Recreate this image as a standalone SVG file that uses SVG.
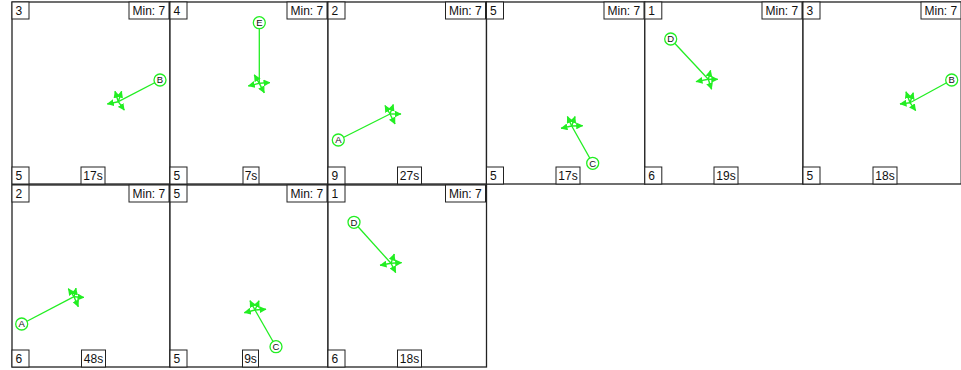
<svg xmlns="http://www.w3.org/2000/svg" width="961" height="370" viewBox="0 0 961 370">
<defs>
<style>
.frame{fill:#fff;stroke:#222;stroke-width:1.3}
.box{fill:#fff;stroke:#222;stroke-width:1}
.lbl{font-family:"Liberation Sans",Arial,sans-serif;font-size:12px;fill:#111}
.nl{font-family:"Liberation Sans",Arial,sans-serif;font-size:9.5px;fill:#111;text-anchor:middle}
.node{fill:#fff;stroke:#22ee22;stroke-width:1.3}
.link{stroke:#22ee22;stroke-width:1.3;fill:none}
.arr{stroke:#22ee22;stroke-width:1.4;fill:none;marker-end:url(#ah)}
</style>
<marker id="ah" markerUnits="userSpaceOnUse" markerWidth="7" markerHeight="7" refX="6.5" refY="3.5" orient="auto" viewBox="0 0 7 7">
<path d="M0,0 L7,3.5 L0,7 z" fill="#22ee22"/>
</marker>
</defs>
<rect width="961" height="370" fill="#fff"/>

<g id="panel1">
<rect class="frame" x="12" y="2" width="158" height="182"/>
<rect class="box" x="12" y="2" width="17" height="17"/><text class="lbl" x="15.5" y="15">3</text>
<rect class="box" x="129" y="2" width="40" height="17"/><text class="lbl" x="132.5" y="15">Min: 7</text>
<rect class="box" x="12" y="167" width="17" height="17"/><text class="lbl" x="15.5" y="180">5</text>
<rect class="box" x="81" y="167" width="24" height="17"/><text class="lbl" x="93" y="180" text-anchor="middle">17s</text>
</g>
<g id="panel2">
<rect class="frame" x="170" y="2" width="158" height="182"/>
<rect class="box" x="170" y="2" width="17" height="17"/><text class="lbl" x="173.5" y="15">4</text>
<rect class="box" x="287" y="2" width="40" height="17"/><text class="lbl" x="290.5" y="15">Min: 7</text>
<rect class="box" x="170" y="167" width="17" height="17"/><text class="lbl" x="173.5" y="180">5</text>
<rect class="box" x="243" y="167" width="16" height="17"/><text class="lbl" x="251" y="180" text-anchor="middle">7s</text>
</g>
<g id="panel3">
<rect class="frame" x="328" y="2" width="158.5" height="182"/>
<rect class="box" x="328" y="2" width="17" height="17"/><text class="lbl" x="331.5" y="15">2</text>
<rect class="box" x="445.5" y="2" width="40" height="17"/><text class="lbl" x="449" y="15">Min: 7</text>
<rect class="box" x="328" y="167" width="17" height="17"/><text class="lbl" x="331.5" y="180">9</text>
<rect class="box" x="397.5" y="167" width="24" height="17"/><text class="lbl" x="409.5" y="180" text-anchor="middle">27s</text>
</g>
<g id="panel4">
<rect class="frame" x="486.5" y="2" width="158.3" height="182"/>
<rect class="box" x="486.5" y="2" width="17" height="17"/><text class="lbl" x="490" y="15">5</text>
<rect class="box" x="604" y="2" width="40" height="17"/><text class="lbl" x="607.5" y="15">Min: 7</text>
<rect class="box" x="486.5" y="167" width="17" height="17"/><text class="lbl" x="490" y="180">5</text>
<rect class="box" x="556" y="167" width="24" height="17"/><text class="lbl" x="568" y="180" text-anchor="middle">17s</text>
</g>
<g id="panel5">
<rect class="frame" x="644.8" y="2" width="158.2" height="182"/>
<rect class="box" x="644.8" y="2" width="17" height="17"/><text class="lbl" x="648.3" y="15">1</text>
<rect class="box" x="762" y="2" width="40" height="17"/><text class="lbl" x="765.5" y="15">Min: 7</text>
<rect class="box" x="644.8" y="167" width="17" height="17"/><text class="lbl" x="648.3" y="180">6</text>
<rect class="box" x="714" y="167" width="24" height="17"/><text class="lbl" x="726" y="180" text-anchor="middle">19s</text>
</g>
<g id="panel6">
<rect class="frame" x="803" y="2" width="158.2" height="182"/>
<rect class="box" x="803" y="2" width="17" height="17"/><text class="lbl" x="806.5" y="15">3</text>
<rect class="box" x="921" y="2" width="40" height="17"/><text class="lbl" x="924.5" y="15">Min: 7</text>
<rect class="box" x="803" y="167" width="17" height="17"/><text class="lbl" x="806.5" y="180">5</text>
<rect class="box" x="873" y="167" width="24" height="17"/><text class="lbl" x="885" y="180" text-anchor="middle">18s</text>
</g>
<g id="panel7">
<rect class="frame" x="12" y="185" width="158" height="182"/>
<rect class="box" x="12" y="185" width="17" height="17"/><text class="lbl" x="15.5" y="198">2</text>
<rect class="box" x="129" y="185" width="40" height="17"/><text class="lbl" x="132.5" y="198">Min: 7</text>
<rect class="box" x="12" y="350" width="17" height="17"/><text class="lbl" x="15.5" y="363">6</text>
<rect class="box" x="81.5" y="350" width="24" height="17"/><text class="lbl" x="93.5" y="363" text-anchor="middle">48s</text>
</g>
<g id="panel8">
<rect class="frame" x="170" y="185" width="158" height="182"/>
<rect class="box" x="170" y="185" width="17" height="17"/><text class="lbl" x="173.5" y="198">5</text>
<rect class="box" x="287" y="185" width="40" height="17"/><text class="lbl" x="290.5" y="198">Min: 7</text>
<rect class="box" x="170" y="350" width="17" height="17"/><text class="lbl" x="173.5" y="363">5</text>
<rect class="box" x="242.5" y="350" width="16" height="17"/><text class="lbl" x="250.5" y="363" text-anchor="middle">9s</text>
</g>
<g id="panel9">
<rect class="frame" x="328" y="185" width="158.5" height="182"/>
<rect class="box" x="328" y="185" width="17" height="17"/><text class="lbl" x="331.5" y="198">1</text>
<rect class="box" x="445.5" y="185" width="40" height="17"/><text class="lbl" x="449" y="198">Min: 7</text>
<rect class="box" x="328" y="350" width="17" height="17"/><text class="lbl" x="331.5" y="363">6</text>
<rect class="box" x="397.5" y="350" width="24" height="17"/><text class="lbl" x="409.5" y="363" text-anchor="middle">18s</text>
</g>

<g id="connectors">
<line class="link" x1="160" y1="80" x2="118.3" y2="101.7"/>
<line class="link" x1="259.3" y1="22.7" x2="259.3" y2="83.3"/>
<line class="link" x1="338.3" y1="140" x2="390" y2="114"/>
<line class="link" x1="592.7" y1="163.3" x2="571.7" y2="126"/>
<line class="link" x1="670.7" y1="39" x2="708.3" y2="79.3"/>
<line class="link" x1="951.7" y1="80" x2="910" y2="102.7"/>
<line class="link" x1="21.7" y1="324" x2="74" y2="296.7"/>
<line class="link" x1="276" y1="346.7" x2="255" y2="310"/>
<line class="link" x1="354" y1="222.3" x2="391" y2="263.3"/>
</g>

<g id="arrows1" transform="translate(118.3,101.7)">
<path class="arr" d="M0,0L-3.3,-10.5"/><path class="arr" d="M0,0L3.3,-10.5"/><path class="arr" d="M0,0L-11,2.3"/><path class="arr" d="M0,0L6,8.5"/>
</g>
<g id="arrows2" transform="translate(259.3,83.3)">
<path class="arr" d="M0,0L-5,-8.5"/><path class="arr" d="M0,0L10.7,-0.7"/><path class="arr" d="M0,0L-11,2.7"/><path class="arr" d="M0,0L5,9.5"/>
</g>
<g id="arrows3" transform="translate(390,114)">
<path class="arr" d="M0,0L-5,-8.5"/><path class="arr" d="M0,0L3.3,-9.5"/><path class="arr" d="M0,0L11,0"/><path class="arr" d="M0,0L5,10"/>
</g>
<g id="arrows4" transform="translate(571.7,126)">
<path class="arr" d="M0,0L-4.3,-9.5"/><path class="arr" d="M0,0L3.3,-9.5"/><path class="arr" d="M0,0L-10.7,2.3"/><path class="arr" d="M0,0L11,-0.3"/>
</g>
<g id="arrows5" transform="translate(708.3,79.3)">
<path class="arr" d="M0,0L2.3,-9"/><path class="arr" d="M0,0L9.5,0"/><path class="arr" d="M0,0L-12.3,2.3"/><path class="arr" d="M0,0L3.3,10"/>
</g>
<g id="arrows6" transform="translate(910,102.7)">
<path class="arr" d="M0,0L-4,-11"/><path class="arr" d="M0,0L3.3,-10"/><path class="arr" d="M0,0L-10,1.3"/><path class="arr" d="M0,0L5.7,8"/>
</g>
<g id="arrows7" transform="translate(74,296.7)">
<path class="arr" d="M0,0L-5.7,-8"/><path class="arr" d="M0,0L2,-8.5"/><path class="arr" d="M0,0L10,0.7"/><path class="arr" d="M0,0L4.3,10"/>
</g>
<g id="arrows8" transform="translate(255,310)">
<path class="arr" d="M0,0L-5,-9.3"/><path class="arr" d="M0,0L4,-9.3"/><path class="arr" d="M0,0L-10.7,2.7"/><path class="arr" d="M0,0L11,-0.7"/>
</g>
<g id="arrows9" transform="translate(391,263.3)">
<path class="arr" d="M0,0L3.3,-9.3"/><path class="arr" d="M0,0L10.7,-0.7"/><path class="arr" d="M0,0L-11,2"/><path class="arr" d="M0,0L4.7,9.3"/>
</g>

<g id="nodeB1"><circle class="node" cx="160" cy="80" r="6"/><text class="nl" x="160" y="83.4">B</text></g>
<g id="nodeE2"><circle class="node" cx="259.3" cy="22.7" r="6"/><text class="nl" x="259.3" y="26.1">E</text></g>
<g id="nodeA3"><circle class="node" cx="338.3" cy="140" r="6"/><text class="nl" x="338.3" y="143.4">A</text></g>
<g id="nodeC4"><circle class="node" cx="592.7" cy="163.3" r="6"/><text class="nl" x="592.7" y="166.7">C</text></g>
<g id="nodeD5"><circle class="node" cx="670.7" cy="39" r="6"/><text class="nl" x="670.7" y="42.4">D</text></g>
<g id="nodeB6"><circle class="node" cx="951.7" cy="80" r="6"/><text class="nl" x="951.7" y="83.4">B</text></g>
<g id="nodeA7"><circle class="node" cx="21.7" cy="324" r="6"/><text class="nl" x="21.7" y="327.4">A</text></g>
<g id="nodeC8"><circle class="node" cx="276" cy="346.7" r="6"/><text class="nl" x="276" y="350.1">C</text></g>
<g id="nodeD9"><circle class="node" cx="354" cy="222.3" r="6"/><text class="nl" x="354" y="225.7">D</text></g>
</svg>
